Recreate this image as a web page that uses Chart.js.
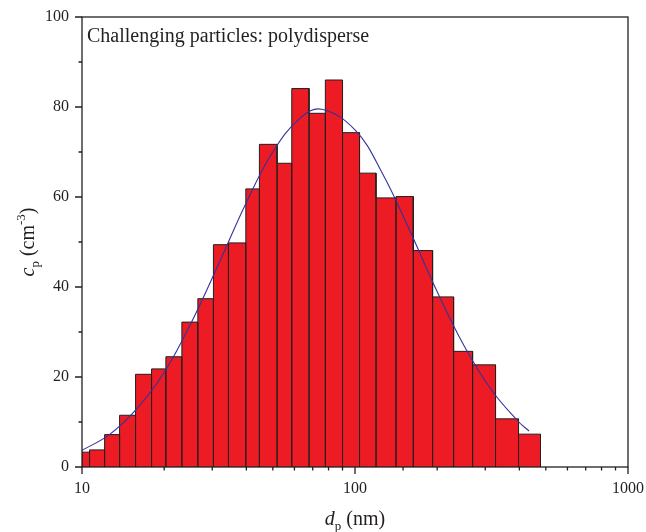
<!DOCTYPE html>
<html lang="en">
<head>
    <meta charset="UTF-8">
    <title>Challenging particles: polydisperse</title>
    <script src="https://cdn.jsdelivr.net/npm/chart.js"></script>
    <style>
        html, body {
            margin: 0;
            padding: 0;
            background: #ffffff;
        }
        #contenedor {
            width: 646px;
            height: 532px;
            position: relative;
        }
    </style>
</head>
<body>
    <div id="contenedor"><canvas id="grafico"></canvas></div>

    <script>
        // histogram bins: edges in nm (log spaced) and concentration per bin
        const binEdges = [10, 10.66, 12.10, 13.73, 15.71, 17.98, 20.29, 23.22, 26.57, 30.30, 34.39,
                          39.82, 44.65, 51.83, 58.67, 67.87, 77.87, 90.01, 103.9, 119.4, 141.3,
                          163.5, 192.4, 229.7, 269.6, 327.2, 397.2, 478.1];
        const binCounts = [3.3, 3.8, 7.2, 11.5, 20.6, 21.8, 24.5, 32.2, 37.4, 49.4, 49.8,
                           61.8, 71.7, 67.5, 84.1, 78.6, 86.0, 74.3, 65.3, 59.8, 60.1,
                           48.1, 37.8, 25.7, 22.7, 10.7, 7.3];

        // fitted curve
        const fitD = [10, 12.6, 15.8, 20, 25.1, 31.6, 39.8, 50.1, 63.1, 75.5,
                      100, 125.9, 158.5, 199.5, 251.2, 316.2, 398.1, 434];
        const fitC = [3.7, 7.2, 12.8, 21.0, 32.0, 45.0, 58.5, 70.1, 77.6, 79.5,
                      74.9, 65.3, 52.6, 39.1, 26.9, 17.1, 10.0, 8.0];

        const xTickLabels = [10, 100, 1000];
        const yTickLabels = [0, 20, 40, 60, 80, 100];
        const anotacion = 'Challenging particles: polydisperse';

        const colorTexto = '#231f20';
        const fuenteSerif = '"Liberation Serif", "DejaVu Serif", serif';

        // outline of the histogram as one filled path
        const puntosHist = [];
        binCounts.forEach((h, i) => {
            const x0 = binEdges[i], x1 = binEdges[i + 1];
            puntosHist.push({x: x0, y: 0}, {x: x0, y: h}, {x: x1, y: h}, {x: x1, y: 0});
        });
        const puntosFit = fitD.map((d, i) => ({x: d, y: fitC[i]}));

        const esPot10 = v => Math.abs(Math.log10(v) - Math.round(Math.log10(v))) < 1e-6;

        function textoRico(ctx, partes, x, y) {
            let ancho = 0;
            partes.forEach(p => { ctx.font = p[1]; ancho += ctx.measureText(p[0]).width; });
            let cx = x - ancho / 2;
            partes.forEach(p => {
                ctx.font = p[1];
                ctx.fillText(p[0], cx, y + p[2]);
                cx += ctx.measureText(p[0]).width;
            });
        }

        const decoracion = {
            id: 'decoracion',
            afterDraw(chart) {
                const {ctx, chartArea: a, scales: {x, y}} = chart;
                ctx.save();
                ctx.strokeStyle = colorTexto;
                ctx.lineWidth = 1.3;
                ctx.beginPath();
                x.ticks.forEach(t => {
                    const px = x.getPixelForValue(t.value);
                    const largo = esPot10(t.value) ? 7 : 3.5;
                    ctx.moveTo(px, a.bottom);
                    ctx.lineTo(px, a.bottom + largo);
                });
                y.ticks.forEach(t => {
                    const py = y.getPixelForValue(t.value);
                    const largo = yTickLabels.includes(t.value) ? 7 : 3.5;
                    ctx.moveTo(a.left, py);
                    ctx.lineTo(a.left - largo, py);
                });
                ctx.stroke();
                ctx.strokeRect(a.left, a.top, a.right - a.left, a.bottom - a.top);

                ctx.fillStyle = colorTexto;
                ctx.textBaseline = 'alphabetic';
                ctx.textAlign = 'left';
                ctx.font = '20px ' + fuenteSerif;
                ctx.fillText(anotacion, a.left + 5, a.top + 25);

                // x axis title
                textoRico(ctx, [
                    ['d', 'italic 20px ' + fuenteSerif, 0],
                    ['p', '13px ' + fuenteSerif, 5],
                    [' (nm)', '20px ' + fuenteSerif, 0]
                ], (a.left + a.right) / 2, 525);

                // y axis title
                ctx.translate(34, (a.top + a.bottom) / 2);
                ctx.rotate(-Math.PI / 2);
                textoRico(ctx, [
                    ['c', 'italic 20px ' + fuenteSerif, 0],
                    ['p', '13px ' + fuenteSerif, 5],
                    [' (cm', '20px ' + fuenteSerif, 0],
                    ['-3', '13px ' + fuenteSerif, -9],
                    [')', '20px ' + fuenteSerif, 0]
                ], 0, 0);
                ctx.restore();
            }
        };

        const ctx = document.getElementById('grafico').getContext('2d');
        const grafico = new Chart(ctx, {
            type: 'scatter',
            data: {
                datasets: [{
                    type: 'line',
                    label: 'fit',
                    data: puntosFit,
                    borderColor: '#333399',
                    borderWidth: 1.1,
                    pointRadius: 0,
                    tension: 0.4,
                    fill: false,
                    order: 0
                }, {
                    type: 'line',
                    label: 'c_p',
                    data: puntosHist,
                    borderColor: '#231f20',
                    borderWidth: 1,
                    backgroundColor: '#ed1c24',
                    pointRadius: 0,
                    tension: 0,
                    fill: 'origin',
                    order: 1
                }]
            },
            options: {
                responsive: true,
                maintainAspectRatio: false,
                animation: false,
                layout: {
                    padding: {top: 17, right: 18, left: 0, bottom: 0}
                },
                plugins: {
                    legend: {display: false},
                    tooltip: {enabled: false}
                },
                scales: {
                    x: {
                        type: 'logarithmic',
                        min: 10,
                        max: 1000,
                        grid: {display: false, drawTicks: false},
                        border: {display: false},
                        afterFit: s => { s.height = 65; s.paddingRight = 0; s.paddingLeft = 0; },
                        ticks: {
                            autoSkip: false,
                            maxRotation: 0,
                            padding: 12,
                            color: colorTexto,
                            font: {family: fuenteSerif, size: 16},
                            callback: v => esPot10(v) && xTickLabels.includes(Math.round(v)) ? String(Math.round(v)) : ''
                        }
                    },
                    y: {
                        min: 0,
                        max: 100,
                        grid: {display: false, drawTicks: false},
                        border: {display: false},
                        afterFit: s => { s.width = 82; s.paddingTop = 0; s.paddingBottom = 0; },
                        ticks: {
                            stepSize: 10,
                            padding: 13,
                            color: colorTexto,
                            font: {family: fuenteSerif, size: 16},
                            callback: v => yTickLabels.includes(v) ? String(v) : ''
                        }
                    }
                }
            },
            plugins: [decoracion]
        });
    </script>
</body>
</html>
